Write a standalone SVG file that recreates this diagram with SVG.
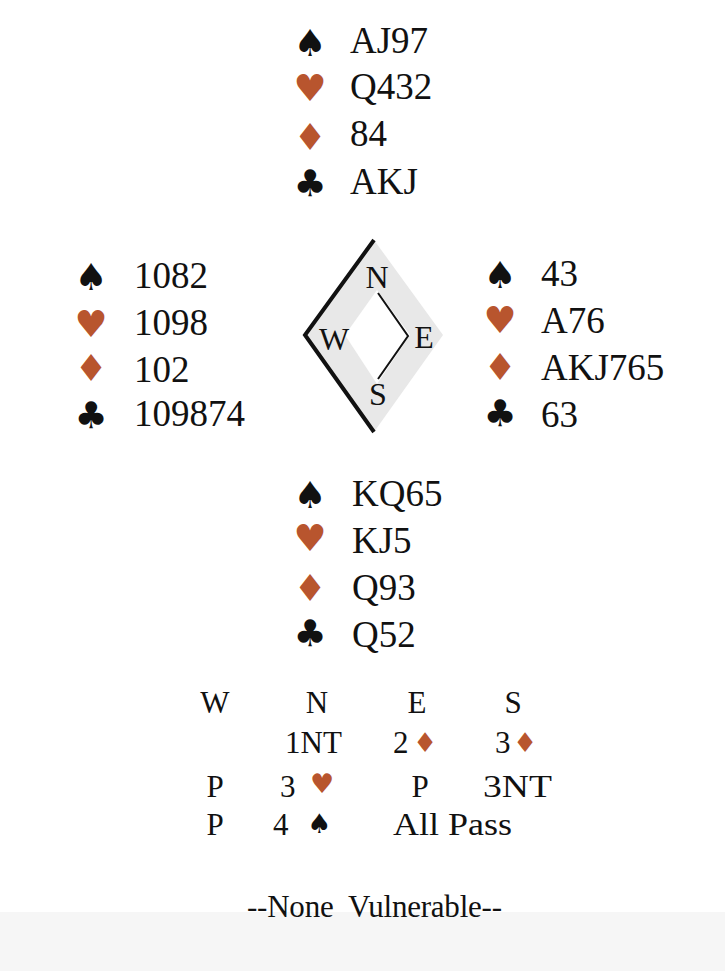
<svg xmlns="http://www.w3.org/2000/svg" width="725" height="971" viewBox="0 0 725 971">
<style>
.t{font-family:"Liberation Serif","Times New Roman",serif;fill:#111}
.h{font-size:37px}
.a{font-size:31px}
.c{font-size:32px}
.s{font-family:"DejaVu Sans",sans-serif;text-anchor:middle;dominant-baseline:central}
.blk{fill:#111}
.red{fill:#b8552e}
.big{font-size:37px}
.sm{font-size:27px}
.m{text-anchor:middle}
</style>
<rect x="0" y="0" width="725" height="971" fill="#ffffff"/>
<rect x="0" y="912" width="725" height="59" fill="#f6f6f6"/>

<g id="north">
<text class="s big blk" x="310" y="43">♠</text>
<text class="s big red" x="310" y="88">♥</text>
<text class="s big red" x="310" y="137">♦</text>
<text class="s big blk" x="310" y="183">♣</text>
<text class="t h" x="350" y="53">AJ97</text>
<text class="t h" x="350" y="99">Q432</text>
<text class="t h" x="350" y="146">84</text>
<text class="t h" x="350" y="194">AKJ</text>
</g>

<g id="west">
<text class="s big blk" x="91" y="277">♠</text>
<text class="s big red" x="91" y="324">♥</text>
<text class="s big red" x="91" y="368">♦</text>
<text class="s big blk" x="91" y="415">♣</text>
<text class="t h" x="134" y="288">1082</text>
<text class="t h" x="134" y="335">1098</text>
<text class="t h" x="134" y="382">102</text>
<text class="t h" x="134" y="426">109874</text>
</g>

<g id="east">
<text class="s big blk" x="500" y="275">♠</text>
<text class="s big red" x="500" y="320">♥</text>
<text class="s big red" x="500" y="367">♦</text>
<text class="s big blk" x="500" y="413">♣</text>
<text class="t h" x="541" y="286">43</text>
<text class="t h" x="541" y="333">A76</text>
<text class="t h" x="541" y="380">AKJ765</text>
<text class="t h" x="541" y="427">63</text>
</g>

<g id="south">
<text class="s big blk" x="310" y="495">♠</text>
<text class="s big red" x="310" y="538">♥</text>
<text class="s big red" x="310" y="588">♦</text>
<text class="s big blk" x="310" y="633">♣</text>
<text class="t h" x="352" y="506">KQ65</text>
<text class="t h" x="352" y="553">KJ5</text>
<text class="t h" x="352" y="600">Q93</text>
<text class="t h" x="352" y="647">Q52</text>
</g>

<g id="compass">
<polygon points="374,240 443,335 374,432 305,335" fill="#e8e8e8"/>
<polygon points="377,290 410,335 377,384 345,335" fill="#ffffff"/>
<polyline points="374,240 305,335 374,432" fill="none" stroke="#111" stroke-width="4"/>
<g id="connectors">
<polyline points="378,293 408,336 378,379" fill="none" stroke="#111" stroke-width="2"/>
</g>
<text class="t c m" x="377" y="288">N</text>
<text class="t c m" x="334" y="350">W</text>
<text class="t c m" x="424" y="348">E</text>
<text class="t c m" x="378" y="405">S</text>
</g>

<g id="auction">
<text class="t a m" x="215" y="713">W</text>
<text class="t a m" x="317" y="713">N</text>
<text class="t a m" x="417" y="713">E</text>
<text class="t a m" x="513" y="713">S</text>
<text class="t a" x="285" y="753">1NT</text>
<text class="t a" x="393" y="753">2</text>
<text class="s sm red" x="425" y="742">♦</text>
<text class="t a" x="495" y="753">3</text>
<text class="s sm red" x="525" y="742">♦</text>
<text class="t a m" x="215" y="797">P</text>
<text class="t a" x="280" y="797">3</text>
<text class="s sm red" x="322" y="783">♥</text>
<text class="t a m" x="420" y="797">P</text>
<text class="t a" x="483" y="797" textLength="69" lengthAdjust="spacingAndGlyphs">3NT</text>
<text class="t a m" x="215" y="835">P</text>
<text class="t a" x="273" y="835">4</text>
<text class="s sm blk" x="319" y="823">♠</text>
<text class="t a" x="393" y="835" textLength="119" lengthAdjust="spacingAndGlyphs">All Pass</text>
</g>

<g id="vulnerability">
<text class="t a" x="247" y="917" textLength="255" xml:space="preserve">--None  Vulnerable--</text>
</g>
</svg>
